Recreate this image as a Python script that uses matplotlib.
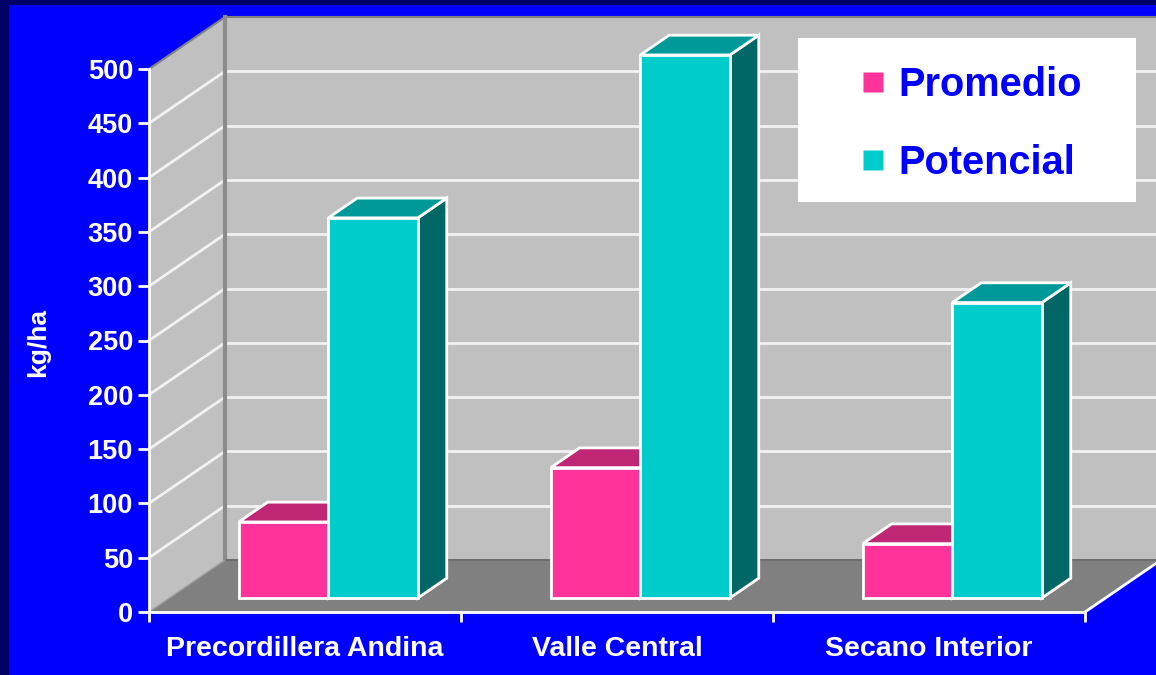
import matplotlib
matplotlib.use("Agg")
import matplotlib.pyplot as plt
import numpy as np
from matplotlib.lines import Line2D
from matplotlib.patches import Rectangle

categories = ["Precordillera Andina", "Valle Central", "Secano Interior"]
promedio = [70, 120, 50]
potencial = [350, 500, 272]
yticks = [0, 50, 100, 150, 200, 250, 300, 350, 400, 450, 500]

W, H = 1156, 675
NAVY = "#000066"
BLUE = "#0000ff"
WALL = "#c0c0c0"
FLOOR = "#808080"
PINK = ("#ff3399", "#bf2673")
CYAN = ("#00cccc", "#009999", "#006666")

plt.rcParams["font.family"] = ["Liberation Sans", "DejaVu Sans"]
plt.rcParams["font.weight"] = "bold"

fig = plt.figure(figsize=(W / 100, H / 100), dpi=100, facecolor=NAVY)
fig.patches.append(Rectangle((9 / W, 0), 1, 1 - 5 / H, transform=fig.transFigure,
                             facecolor=BLUE, edgecolor="none", zorder=-10))

# plot box in pixels, the 3d part sticks out of it
ax = fig.add_axes([149 / W, 1 - 612 / H, 936 / W, 543 / H])
ax.patch.set_visible(False)
ax.set_xlim(0, 3)
ax.set_ylim(0, 500)

# depth of the box in data units
DX = 76 / 312
DY = 52 / 1.086


def depth(f):
    return f * DX, f * DY


n = len(categories)
top = yticks[-1]

# walls and floor
ax.fill([0, 0, DX, DX], [0, top, top + DY, DY], color=WALL, lw=0, clip_on=False, zorder=1)
ax.fill([DX, DX, n + DX, n + DX], [DY, top + DY, top + DY, DY], color=WALL, lw=0, clip_on=False, zorder=1)
ax.fill([0, n, n + DX, DX], [0, 0, DY, DY], color=FLOOR, lw=0, clip_on=False, zorder=2)

for v in yticks[1:-1]:
    ax.plot([0, DX], [v, v + DY], color="#f2f2f2", lw=2, clip_on=False, zorder=2)
    ax.plot([DX, n + DX], [v + DY, v + DY], color="#f2f2f2", lw=2, clip_on=False, zorder=2)

ax.plot([0, DX, n + DX], [top, top + DY, top + DY], color="#808080", lw=1.5, clip_on=False, zorder=3)
ax.plot([DX, DX], [DY, top + DY], color="#8c8c8c", lw=3, clip_on=False, zorder=3)
ax.plot([DX, n + DX], [DY, DY], color="#6e6e6e", lw=1.5, clip_on=False, zorder=3)
ax.plot([0, DX], [0, DY], color="#a0a0a0", lw=1, clip_on=False, zorder=3)
ax.plot([n, n + DX], [0, DY], color="white", lw=2, clip_on=False, zorder=3)

# bars
x = np.arange(n)
bar_w = 0.287
sx0, sy0 = depth(0.27)
sx1, sy1 = depth(0.65)
x_pro = x + 0.222
x_pot = x_pro + bar_w


def bars(xs, vals, face, top_col, side_col, z):
    for a, v in zip(xs, vals):
        l = a + sx0
        r = l + bar_w
        t = v + sy0
        ddx = sx1 - sx0
        ddy = sy1 - sy0
        ax.fill([r, r + ddx, r + ddx, r], [sy0, sy1, t + ddy, t], facecolor=side_col,
                edgecolor="white", lw=2, clip_on=False, zorder=z)
        ax.fill([l, l + ddx, r + ddx, r], [t, t + ddy, t + ddy, t], facecolor=top_col,
                edgecolor="white", lw=2, clip_on=False, zorder=z)
    ax.bar(xs + sx0, vals, bar_w, bottom=sy0, align="edge", color=face, edgecolor="white",
           lw=2, clip_on=False, zorder=z + 0.5)


bars(x_pro, promedio, PINK[0], PINK[1], PINK[1], 4)
bars(x_pot, potencial, CYAN[0], CYAN[1], CYAN[2], 5)

# axes
for s in ["top", "right"]:
    ax.spines[s].set_visible(False)
for s in ["left", "bottom"]:
    ax.spines[s].set_color("white")
    ax.spines[s].set_linewidth(2)
    ax.spines[s].set_zorder(6)

ax.set_yticks(yticks)
ax.tick_params(axis="y", colors="white", length=8, width=2, pad=3.5, labelsize=19.5)
ax.set_xticks(np.arange(n + 1))
ax.set_xticklabels([])
ax.set_xticks(x + 0.5, categories, minor=True)
ax.tick_params(axis="x", which="major", colors="white", length=7, width=2)
ax.tick_params(axis="x", which="minor", colors="white", length=0, pad=17, labelsize=20.5)
fig.text(38 / W, 1 - 342 / H, "kg/ha", color="white", fontsize=19, rotation=90,
         ha="center", va="center")

# legend
ax.add_patch(Rectangle((798 / W, 1 - 202 / H), 338 / W, 164 / H, transform=fig.transFigure,
                       facecolor="white", edgecolor="none", clip_on=False, zorder=8))
handles = [
    Line2D([], [], ls="none", marker="s", ms=14.4, mfc=PINK[0], mec="none", label="Promedio"),
    Line2D([], [], ls="none", marker="s", ms=14.4, mfc=CYAN[0], mec="none", label="Potencial"),
]
leg = ax.legend(handles=handles, loc="center left", bbox_to_anchor=(853 / W, 1 - 124 / H),
                bbox_transform=fig.transFigure, frameon=False, fontsize=28.6, labelcolor=BLUE,
                labelspacing=0.99, handlelength=1.0, handletextpad=0.13, borderpad=0, borderaxespad=0)
leg.set_zorder(9)

fig.savefig("out.png", dpi=100, facecolor=fig.get_facecolor())
